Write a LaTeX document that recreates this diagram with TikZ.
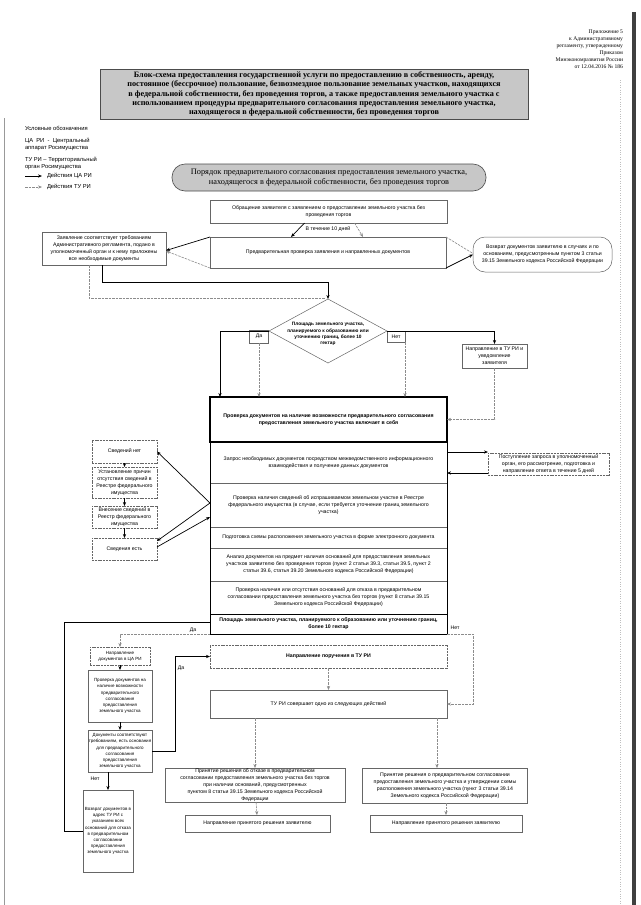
\documentclass[tikz,border=0pt]{standalone}
\usepackage{fontspec}
\setmainfont{Liberation Sans}
\newfontfamily\srf{Liberation Serif}
\usetikzlibrary{shapes.geometric,arrows.meta,calc}
\begin{document}
\begin{tikzpicture}[x=1pt,y=-1pt,
  every node/.style={inner sep=0pt, outer sep=0pt},
  fs/.style={font=\fontsize{5.2}{6.9}\selectfont},
  fsb/.style={font=\fontsize{5.2}{6.9}\selectfont\bfseries},
  fsn/.style={font=\fontsize{4.5}{6.1}\selectfont},
  box/.style={draw=black!60, line width=0.5pt, align=center, fs},
  dbox/.style={box, dash pattern=on 2pt off 0.8pt},
  nbox/.style={box, fsn},
  row/.style={box, minimum width=237pt},
  lab/.style={fs, align=center},
  ca/.style={draw=black, line width=0.7pt, -{Stealth[length=4pt,width=3.2pt]}},
  caline/.style={draw=black, line width=0.7pt},
  tu/.style={draw=black!45, line width=0.6pt, dash pattern=on 2.5pt off 1pt, -{Stealth[length=4pt,width=3.2pt]}},
  tuline/.style={draw=black!45, line width=0.6pt, dash pattern=on 2.5pt off 1pt},
]
\useasboundingbox (0,0) rectangle (640,905);
\fill[white] (0,0) rectangle (640,905);
% scan edges
\draw[black!40, line width=0.6pt] (4,118) -- (4,905);
\fill[black!75] (632,12) rectangle (636,905);
\draw[black!25, dotted] (620,80) -- (620,905);

% header
\node[anchor=north east, align=right, font=\srf\fontsize{5.6}{6.9}\selectfont] (hdr) at (623,30)
 {Приложение 5\\к Административному\\регламенту, утвержденному\\Приказом\\Минэкономразвития России\\от 12.04.2016 № 186};

% title
\node[draw=black!70, fill=black!22, line width=0.6pt, minimum width=428pt, minimum height=50pt, align=center,
  font=\srf\bfseries\fontsize{8.2}{9.2}\selectfont] (title) at (314,94)
 {Блок-схема предоставления государственной услуги по предоставлению в собственность, аренду,\\
  постоянное (бессрочное) пользование, безвозмездное пользование земельных участков, находящихся\\
  в федеральной собственности, без проведения торгов, а также предоставления земельного участка с\\
  использованием процедуры предварительного согласования предоставления земельного участка,\\
  находящегося в федеральной собственности, без проведения торгов};

% legend
\node[anchor=west, font=\fontsize{5.8}{7}\selectfont] (lg0) at (25,128) {Условные обозначения};
\node[anchor=north west, align=left, font=\fontsize{5.8}{7.6}\selectfont] (lg1) at (25,138) {ЦА\ \ РИ\ \ -\ \ Центральный\\аппарат Росимущества};
\node[anchor=north west, align=left, font=\fontsize{5.8}{7.6}\selectfont] (lg2) at (25,157) {ТУ РИ – Территориальный\\орган Росимущества};
\coordinate (la1) at (25,176); \coordinate (la2) at (42,176);
\coordinate (lb1) at (25,187); \coordinate (lb2) at (42,187);
\draw[ca] (la1) -- (la2);
\draw[tu] (lb1) -- (lb2);
\node[anchor=west, font=\fontsize{5.8}{7}\selectfont] (lg3) at (47,176) {Действия ЦА РИ};
\node[anchor=west, font=\fontsize{5.8}{7}\selectfont] (lg4) at (47,187) {Действия ТУ РИ};

% section pill
\node[draw=black!70, fill=black!22, line width=0.6pt, rounded corners=13pt, minimum width=314pt, minimum height=27pt,
  align=center, font=\srf\fontsize{8.3}{10.2}\selectfont] (pill) at (329,177.5)
 {Порядок предварительного согласования предоставления земельного участка,\\находящегося в федеральной собственности, без проведения торгов};

% top flow
\node[box, minimum width=237pt, minimum height=23pt] (A) at (328.5,211.5)
 {Обращение заявителя с заявлением о предоставлении земельного участка без\\проведения торгов};
\node[lab] (t10) at (328,229) {В течение 10 дней};
\node[box, minimum width=236pt, minimum height=31pt] (B) at (328,252.5)
 {Предварительная проверка заявления и направленных документов};
\node[box, minimum width=124pt, minimum height=33pt] (C) at (104,248.5)
 {Заявление соответствует требованиям\\Административного регламента, подано в\\уполномоченный орган и к нему приложены\\все необходимые документы};
\node[box, rounded corners=12pt, minimum width=139pt, minimum height=35pt] (D) at (542.5,254.5)
 {Возврат документов заявителю в случаях и по\\основаниям, предусмотренным пунктом 3 статьи\\39.15 Земельного кодекса Российской Федерации};

\draw[ca] ([xshift=-24]A.south) -- ([xshift=-37]B.north);
\draw[tu] ([xshift=26]A.south) -- ([xshift=35]B.north);
\draw[ca] (B.north west) -- ([yshift=-2]C.east);
\draw[tu] (B.south west) -- ([yshift=-2.5]C.east);
\draw[tuline] (B.north east) -- ([yshift=1]D.west);
\draw[ca] (B.south east) -- (D.west);

% diamond
\node[diamond, draw=black!60, line width=0.5pt, minimum width=118pt, minimum height=64pt] (E) at (328,331) {};
\node[align=center, font=\fontsize{4.8}{6.3}\selectfont\bfseries] (Et) at (328,334) {Площадь земельного участка,\\планируемого к образованию или\\уточнению границ, более 10\\гектар};
\draw[ca] ([xshift=-2]C.south) -- ++(0,17) -| (E.north);
\draw[tuline] ([xshift=-15]C.south) |- ([xshift=-3,yshift=1]E.north);

\node[box, minimum width=19pt, minimum height=13pt] (da1) at (259,336.5) {Да};
\node[box, minimum width=18pt, minimum height=11pt] (net1) at (396,336.5) {Нет};
\node[box, minimum width=65pt, minimum height=24pt] (F) at (494.5,356)
 {Направление в ТУ РИ и\\уведомление\\заявителя};

% main stack
\node[row, minimum height=45pt, fsb] (r1) at (328.5,419.5)
 {Проверка документов на наличие возможности предварительного согласования\\предоставления земельного участка включает в себя};
\node[row, minimum height=41pt] (r2) at (328.5,462.5)
 {Запрос необходимых документов посредством межведомственного информационного\\взаимодействия и получение данных документов};
\node[row, minimum height=44pt] (r3) at (328.5,505)
 {Проверка наличия сведений об испрашиваемом земельном участке в Реестре\\федерального имущества (в случае, если требуется уточнение границ земельного\\участка)};
\node[row, minimum height=21pt] (r4) at (328.5,537.5)
 {Подготовка схемы расположения земельного участка в форме электронного документа};
\node[row, minimum height=33pt] (r5) at (328.5,564.5)
 {Анализ документов на предмет наличия оснований для предоставления земельных\\участков заявителю без проведения торгов (пункт 2 статьи 39.3, статьи 39.5, пункт 2\\статьи 39.6, статья 39.20 Земельного кодекса Российской Федерации)};
\node[row, minimum height=33pt] (r6) at (328.5,597.5)
 {Проверка наличия или отсутствия оснований для отказа в предварительном\\согласовании предоставления земельного участка без торгов (пункт 8 статьи 39.15\\Земельного кодекса Российской Федерации)};
\node[row, minimum height=20pt, fsb] (r7) at (328.5,624)
 {Площадь земельного участка, планируемого к образованию или уточнению границ,\\более 10 гектар};
\draw[black, line width=1.1pt] (r1.south west) rectangle (r1.north east);
\draw[black, line width=0.9pt] (r7.south west) rectangle (r7.north east);
\draw[black, line width=0.8pt] (r1.south east) -- (r7.north east);
\draw[black, line width=0.8pt] (r1.south west) -- (r7.north west);

\draw[ca] (E.west) -| ([xshift=10]r1.north west);
\draw[tu] (da1.south) -- (da1.south |- r1.north);
\draw[ca] (E.east) -| (F.north);
\draw[tu] (net1.south east) -- (net1.south east |- r1.north);
\draw[tu] (F.south) |- (r1.east);

% left chain
\node[dbox, minimum width=65pt, minimum height=23pt] (H1) at (124.5,451.5) {Сведений нет};
\node[dbox, minimum width=65pt, minimum height=31pt] (H2) at (124.5,482.5) {Установление причин\\отсутствия сведений в\\Реестре федерального\\имущества};
\node[dbox, minimum width=65pt, minimum height=22pt] (H3) at (124.5,517) {Внесение сведений в\\Реестр федерального\\имущества};
\node[dbox, minimum width=65pt, minimum height=22pt] (H4) at (124.5,549) {Сведения есть};
\draw[ca] (H1) -- (H2);
\draw[ca] (H2) -- (H3);
\draw[ca, line width=1pt] (H3) -- (H4);
\draw[ca] ([yshift=2]r3.west) -- (H1.east);
\draw[ca] ([yshift=2]r3.west) -- ([yshift=8]H4.east);
\draw[ca] ([yshift=2]H4.east) -- ([yshift=-12]r3.west);

% right request box
\node[dbox, minimum width=121pt, minimum height=22pt] (I) at (548.5,464)
 {Поступление запроса в уполномоченный\\орган, его рассмотрение, подготовка и\\направление ответа в течение 5 дней};
\draw[ca] ([yshift=10.5]r2.east) -- ([yshift=10.5]r2.east -| I.west);
\draw[ca] ([yshift=-10.5]r2.east -| I.west) -- ([yshift=-10.5]r2.east);

% lower part
\node[dbox, minimum width=237pt, minimum height=23pt, fsb] (N) at (328.5,656.5) {Направление поручения в ТУ РИ};
\node[box, minimum width=237pt, minimum height=28pt] (O) at (328.5,704) {ТУ РИ совершает одно из следующих действий};
\node[dbox, fsn, minimum width=60pt, minimum height=18pt] (J) at (120,656) {Направление\\документов в ЦА РИ};
\node[nbox, minimum width=64pt, minimum height=52pt] (K) at (120,696)
 {Проверка документов на\\наличие возможности\\предварительного\\согласования\\предоставления\\земельного участка};
\node[nbox, minimum width=64pt, minimum height=42pt] (L) at (120,751)
 {Документы соответствуют\\требованиям, есть основания\\для предварительного\\согласования\\предоставления\\земельного участка};
\node[nbox, minimum width=50pt, minimum height=82pt] (M) at (108,831)
 {Возврат документов в\\адрес ТУ РИ с\\указанием всех\\оснований для отказа\\в предварительном\\согласовании\\предоставления\\земельного участка};
\node[box, minimum width=180pt, minimum height=34pt] (P) at (255,785)
 {Принятие решения об отказе в предварительном\\согласовании предоставления земельного участка без торгов\\при наличии оснований, предусмотренных\\пунктом 8 статьи 39.15 Земельного кодекса Российской\\Федерации};
\node[box, minimum width=165pt, minimum height=35pt] (Q) at (445,785.5)
 {Принятие решения о предварительном согласовании\\предоставления земельного участка и утверждении схемы\\расположения земельного участка (пункт 3 статьи 39.14\\Земельного кодекса Российской Федерации)};
\node[box, minimum width=145pt, minimum height=17pt] (R1) at (257.5,823.5) {Направление принятого решения заявителю};
\node[box, minimum width=152pt, minimum height=17pt] (R2) at (446,823.5) {Направление принятого решения заявителю};

\draw[tu] (r7.south west) -| (J.north);
\node[lab] (da2) at (193,630) {Да};
\draw[caline] ([yshift=2]r7.west) -| ([xshift=-19]M.west) -- (M.west);
\draw[tu] (r7.south east) -- ++(26,0) |- (O.east);
\node[lab] (net2) at (455,628) {Нет};
\draw[ca] (J) -- (K);
\draw[ca] (K) -- (L);
\draw[ca] (L.east) -- ++(23,0) |- (N.west);
\node[lab] (da3) at (181,668) {Да};
\draw[ca] ([xshift=-12]L.south) -- (M.north);
\node[lab] (net3) at (95,779) {Нет};
\draw[tu] (N) -- (O);
\draw[tu] (O.south -| P.north) -- (P.north);
\draw[tu] ([xshift=-10]O.south east) -- ([xshift=-10]O.south east |- Q.north);
\draw[tu] (P) -- (R1);
\draw[tu] (Q.south -| R2.north) -- (R2.north);
\end{tikzpicture}
\end{document}
